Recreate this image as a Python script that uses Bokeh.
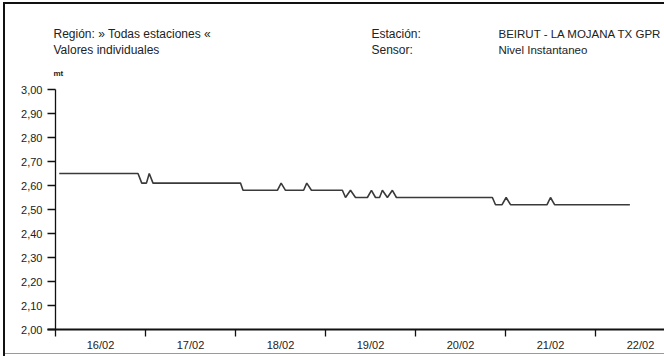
import pandas as pd
from bokeh.plotting import figure
from bokeh.models import (Range1d, FixedTicker, CustomJSTickFormatter, Label,
                          ColumnDataSource)
from bokeh.embed import file_html
from bokeh.resources import INLINE

# ---------------- data ----------------
times = [
    "2024-02-16 01:00", "2024-02-16 22:00", "2024-02-16 23:00", "2024-02-17 00:15",
    "2024-02-17 01:00", "2024-02-17 02:00", "2024-02-18 01:20", "2024-02-18 02:00",
    "2024-02-18 11:10", "2024-02-18 12:10", "2024-02-18 13:20", "2024-02-18 18:10",
    "2024-02-18 19:00", "2024-02-18 20:15", "2024-02-19 04:30", "2024-02-19 05:20",
    "2024-02-19 06:40", "2024-02-19 08:00", "2024-02-19 11:10", "2024-02-19 12:15",
    "2024-02-19 13:20", "2024-02-19 14:25", "2024-02-19 15:10", "2024-02-19 16:30",
    "2024-02-19 17:50", "2024-02-19 18:55", "2024-02-20 20:30", "2024-02-20 21:20",
    "2024-02-20 23:05", "2024-02-21 00:10", "2024-02-21 01:20", "2024-02-21 11:05",
    "2024-02-21 12:00", "2024-02-21 13:05", "2024-02-22 09:10",
]
levels = [
    2.65, 2.65, 2.61, 2.61,
    2.65, 2.61, 2.61, 2.58,
    2.58, 2.61, 2.58, 2.58,
    2.61, 2.58, 2.58, 2.55,
    2.58, 2.55, 2.55, 2.58,
    2.55, 2.55, 2.58, 2.55,
    2.58, 2.55, 2.55, 2.52,
    2.52, 2.55, 2.52, 2.52,
    2.55, 2.52, 2.52,
]
day_labels = ["16/02", "17/02", "18/02", "19/02", "20/02", "21/02", "22/02"]
y_ticks = [2.0, 2.1, 2.2, 2.3, 2.4, 2.5, 2.6, 2.7, 2.8, 2.9, 3.0]
unit_label = "mt"
header_left = ["Región: » Todas estaciones «", "Valores individuales"]
header_mid = ["Estación:", "Sensor:"]
header_right = ["BEIRUT - LA MOJANA TX GPR", "Nivel Instantaneo"]

# ---------------- layout (page pixels; canvas sits at page 0,0) ----------------
W, H = 664, 356
AXIS_X = 55               # page x of 16/02 00:00 (y axis)
FRAME_L = 47              # page x of frame left (y ticks start here)
Y300, Y200 = 89, 329      # page y of 3,00 and 2,00
px_per_day = 90.0
px_per_unit = (Y200 - Y300) / 1.0
DAY = 86400000.0

t0 = pd.Timestamp("2024-02-16 00:00")
t0_ms = t0.value / 1e6


def ax(X):
    return t0_ms + (X - AXIS_X) / px_per_day * DAY


def ay(Y):
    return 3.0 + (Y300 - Y) / px_per_unit


x_range = Range1d(ax(FRAME_L), ax(W))
y_range = Range1d(ay(Y200), ay(0))

ts = pd.to_datetime(times)
src = ColumnDataSource(dict(t=ts, v=levels))

p = figure(width=W, height=H, x_axis_type="datetime",
           x_range=x_range, y_range=y_range,
           output_backend="svg", toolbar_location=None,
           min_border_left=FRAME_L, min_border_right=0,
           min_border_top=0, min_border_bottom=H - Y200)
p.title.visible = False
p.outline_line_color = None
p.xgrid.visible = False
p.ygrid.visible = False
p.background_fill_color = None
p.border_fill_color = None
# page frame of the original report: black top/left rule, grey bottom rule
p.styles = {"box-shadow": ("inset 3px 2px 0 0 #ffffff, inset 5px 4px 0 0 #111111, "
                           "inset 0 -2px 0 0 #ffffff, inset 0 -3px 0 0 #9a9a9a")}

# y axis line at 16/02 00:00, from 2,00 to 3,00
p.segment(x0=[t0_ms], y0=[y_ticks[0]], x1=[t0_ms], y1=[y_ticks[-1]],
          line_color="#111", line_width=1.3)

p.line("t", "v", source=src, line_color="#3a3a3a", line_width=1.6)

FONT = "Liberation Sans"
TXT = "#222222"

# y axis: ticks drawn inward from frame edge to the axis line
ya = p.yaxis[0]
ya.ticker = FixedTicker(ticks=y_ticks)
ya.formatter = CustomJSTickFormatter(code="return tick.toFixed(2).replace('.', ',');")
ya.axis_line_color = None
ya.major_tick_line_color = "#111"
ya.major_tick_line_width = 1.3
ya.major_tick_out = 0
ya.major_tick_in = AXIS_X - FRAME_L
ya.minor_tick_out = 0
ya.minor_tick_in = 0
ya.major_label_standoff = 5
ya.major_label_text_font = FONT
ya.major_label_text_font_size = "11px"
ya.major_label_text_color = TXT

# x axis: labels at noon, ticks at midnight
noons = [t0_ms + (i + 0.5) * DAY for i in range(len(day_labels))]
mids = [t0_ms + i * DAY for i in range(len(day_labels) + 1)]
xa = p.xaxis[0]
xa.ticker = FixedTicker(ticks=noons, minor_ticks=mids)
xa.formatter = CustomJSTickFormatter(
    args=dict(labels=day_labels, t0=t0_ms, day=DAY),
    code="const i = Math.round((tick - t0) / day - 0.5); return labels[i];")
xa.axis_line_color = "#111"
xa.axis_line_width = 1.8
xa.major_tick_out = 0
xa.major_tick_in = 0
xa.minor_tick_out = 7
xa.minor_tick_in = 0
xa.minor_tick_line_color = "#111"
xa.minor_tick_line_width = 1.3
xa.major_label_standoff = 2
xa.major_label_text_font = FONT
xa.major_label_text_font_size = "11px"
xa.major_label_text_color = TXT


def lab(text, X, Y, size="12px", style="normal"):
    p.add_layout(Label(x=ax(X), y=ay(Y), text=text, text_font=FONT,
                       text_font_size=size, text_color=TXT, text_baseline="middle",
                       text_align="left", text_font_style=style))


lab(header_left[0], 53, 33)
lab(header_left[1], 53, 49.5)
lab(header_mid[0], 371, 33)
lab(header_mid[1], 371, 49.5)
lab(header_right[0], 498, 33, size="11.5px")
lab(header_right[1], 498, 49.5, size="11.5px")
lab(unit_label, 53, 73, size="8px", style="bold")

open("out.html", "w").write(file_html(p, INLINE))
